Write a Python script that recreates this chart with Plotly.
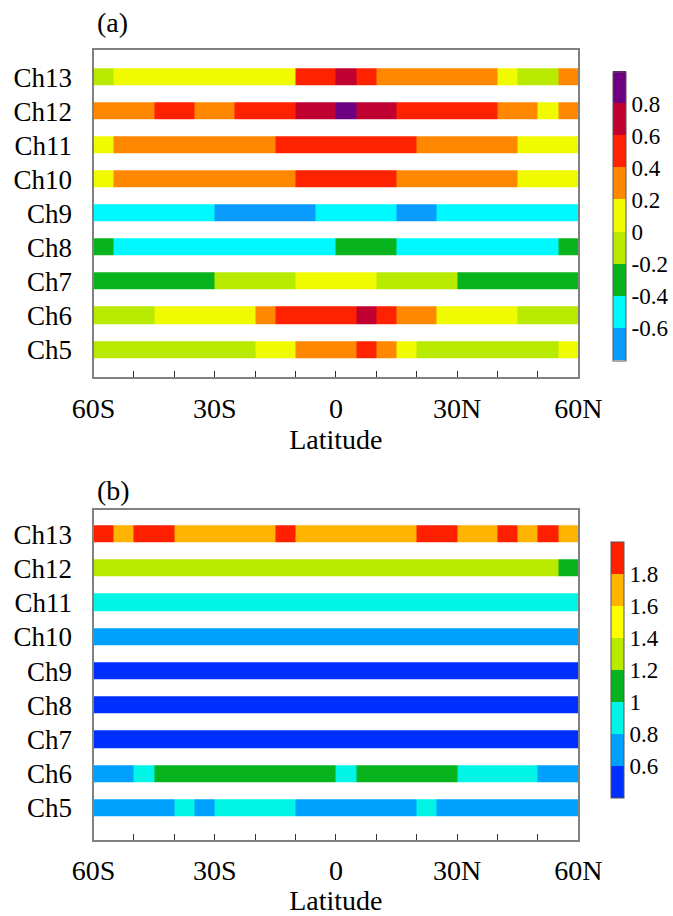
import plotly.graph_objects as go

# ---------------- data ----------------
lat_centers = [-57.5 + 5 * i for i in range(24)]
channels = ["Ch5", "Ch6", "Ch7", "Ch8", "Ch9", "Ch10", "Ch11", "Ch12", "Ch13"]
x_tickvals = [-60, -30, 0, 30, 60]
x_ticktext = ["60S", "30S", "0", "30N", "60N"]

# panel (a): correlation-like values, 5-degree latitude bins 60S..60N
a_ch13 = [-0.1, 0.1, 0.1, 0.1, 0.1, 0.1, 0.1, 0.1, 0.1, 0.1, 0.5, 0.5, 0.7, 0.5, 0.3, 0.3, 0.3, 0.3, 0.3, 0.3, 0.1, -0.1, -0.1, 0.3]
a_ch12 = [0.3, 0.3, 0.3, 0.5, 0.5, 0.3, 0.3, 0.5, 0.5, 0.5, 0.7, 0.7, 0.9, 0.7, 0.7, 0.5, 0.5, 0.5, 0.5, 0.5, 0.3, 0.3, 0.1, 0.3]
a_ch11 = [0.1, 0.3, 0.3, 0.3, 0.3, 0.3, 0.3, 0.3, 0.3, 0.5, 0.5, 0.5, 0.5, 0.5, 0.5, 0.5, 0.3, 0.3, 0.3, 0.3, 0.3, 0.1, 0.1, 0.1]
a_ch10 = [0.1, 0.3, 0.3, 0.3, 0.3, 0.3, 0.3, 0.3, 0.3, 0.3, 0.5, 0.5, 0.5, 0.5, 0.5, 0.3, 0.3, 0.3, 0.3, 0.3, 0.3, 0.1, 0.1, 0.1]
a_ch9 = [-0.5, -0.5, -0.5, -0.5, -0.5, -0.5, -0.7, -0.7, -0.7, -0.7, -0.7, -0.5, -0.5, -0.5, -0.5, -0.7, -0.7, -0.5, -0.5, -0.5, -0.5, -0.5, -0.5, -0.5]
a_ch8 = [-0.3, -0.5, -0.5, -0.5, -0.5, -0.5, -0.5, -0.5, -0.5, -0.5, -0.5, -0.5, -0.3, -0.3, -0.3, -0.5, -0.5, -0.5, -0.5, -0.5, -0.5, -0.5, -0.5, -0.3]
a_ch7 = [-0.3, -0.3, -0.3, -0.3, -0.3, -0.3, -0.1, -0.1, -0.1, -0.1, 0.1, 0.1, 0.1, 0.1, -0.1, -0.1, -0.1, -0.1, -0.3, -0.3, -0.3, -0.3, -0.3, -0.3]
a_ch6 = [-0.1, -0.1, -0.1, 0.1, 0.1, 0.1, 0.1, 0.1, 0.3, 0.5, 0.5, 0.5, 0.5, 0.7, 0.5, 0.3, 0.3, 0.1, 0.1, 0.1, 0.1, -0.1, -0.1, -0.1]
a_ch5 = [-0.1, -0.1, -0.1, -0.1, -0.1, -0.1, -0.1, -0.1, 0.1, 0.1, 0.3, 0.3, 0.3, 0.5, 0.3, 0.1, -0.1, -0.1, -0.1, -0.1, -0.1, -0.1, -0.1, 0.1]

# panel (b): ratio-like values
b_ch13 = [1.9, 1.7, 1.9, 1.9, 1.7, 1.7, 1.7, 1.7, 1.7, 1.9, 1.7, 1.7, 1.7, 1.7, 1.7, 1.7, 1.9, 1.9, 1.7, 1.7, 1.9, 1.7, 1.9, 1.7]
b_ch12 = [1.3, 1.3, 1.3, 1.3, 1.3, 1.3, 1.3, 1.3, 1.3, 1.3, 1.3, 1.3, 1.3, 1.3, 1.3, 1.3, 1.3, 1.3, 1.3, 1.3, 1.3, 1.3, 1.3, 1.1]
b_ch11 = [0.9, 0.9, 0.9, 0.9, 0.9, 0.9, 0.9, 0.9, 0.9, 0.9, 0.9, 0.9, 0.9, 0.9, 0.9, 0.9, 0.9, 0.9, 0.9, 0.9, 0.9, 0.9, 0.9, 0.9]
b_ch10 = [0.7, 0.7, 0.7, 0.7, 0.7, 0.7, 0.7, 0.7, 0.7, 0.7, 0.7, 0.7, 0.7, 0.7, 0.7, 0.7, 0.7, 0.7, 0.7, 0.7, 0.7, 0.7, 0.7, 0.7]
b_ch9 = [0.5, 0.5, 0.5, 0.5, 0.5, 0.5, 0.5, 0.5, 0.5, 0.5, 0.5, 0.5, 0.5, 0.5, 0.5, 0.5, 0.5, 0.5, 0.5, 0.5, 0.5, 0.5, 0.5, 0.5]
b_ch8 = [0.5, 0.5, 0.5, 0.5, 0.5, 0.5, 0.5, 0.5, 0.5, 0.5, 0.5, 0.5, 0.5, 0.5, 0.5, 0.5, 0.5, 0.5, 0.5, 0.5, 0.5, 0.5, 0.5, 0.5]
b_ch7 = [0.5, 0.5, 0.5, 0.5, 0.5, 0.5, 0.5, 0.5, 0.5, 0.5, 0.5, 0.5, 0.5, 0.5, 0.5, 0.5, 0.5, 0.5, 0.5, 0.5, 0.5, 0.5, 0.5, 0.5]
b_ch6 = [0.7, 0.7, 0.9, 1.1, 1.1, 1.1, 1.1, 1.1, 1.1, 1.1, 1.1, 1.1, 0.9, 1.1, 1.1, 1.1, 1.1, 1.1, 0.9, 0.9, 0.9, 0.9, 0.7, 0.7]
b_ch5 = [0.7, 0.7, 0.7, 0.7, 0.9, 0.7, 0.9, 0.9, 0.9, 0.9, 0.7, 0.7, 0.7, 0.7, 0.7, 0.7, 0.9, 0.7, 0.7, 0.7, 0.7, 0.7, 0.7, 0.7]

a_levels = [-0.8, -0.6, -0.4, -0.2, 0.0, 0.2, 0.4, 0.6, 0.8, 1.0]
a_colors = ["#0a9bff", "#00f8ff", "#08b41e", "#b8ea00", "#f0fa00", "#ff8800", "#ff2200", "#c00030", "#6c0080"]
a_ticks = [-0.6, -0.4, -0.2, 0, 0.2, 0.4, 0.6, 0.8]
a_ticktext = ["-0.6", "-0.4", "-0.2", "0", "0.2", "0.4", "0.6", "0.8"]

b_levels = [0.4, 0.6, 0.8, 1.0, 1.2, 1.4, 1.6, 1.8, 2.0]
b_colors = ["#0030ff", "#00a0ff", "#00f5e6", "#08b41e", "#b8ea00", "#ffff00", "#ffb400", "#ff2000"]
b_ticks = [0.6, 0.8, 1.0, 1.2, 1.4, 1.6, 1.8]
b_ticktext = ["0.6", "0.8", "1", "1.2", "1.4", "1.6", "1.8"]

# ---------------- figure ----------------
W, H = 673, 916
FONT = "Liberation Serif"


def discrete_scale(colors):
    n = len(colors)
    cs = []
    for i, c in enumerate(colors):
        cs.append([i / n, c])
        cs.append([(i + 1) / n, c])
    return cs


def py(px):
    return 1 - px / H


def pxx(px):
    return px / W


za = [a_ch5, a_ch6, a_ch7, a_ch8, a_ch9, a_ch10, a_ch11, a_ch12, a_ch13]
zb = [b_ch5, b_ch6, b_ch7, b_ch8, b_ch9, b_ch10, b_ch11, b_ch12, b_ch13]

fig = go.Figure()

cb_common = dict(
    thickness=13, thicknessmode="pixels", lenmode="fraction",
    outlinewidth=1, outlinecolor="#555555", xanchor="left", yanchor="top",
    ticks="", tickfont=dict(family=FONT, size=23, color="black"), ypad=0, xpad=0,
)

fig.add_trace(go.Heatmap(
    x=lat_centers, y=channels, z=za, xaxis="x", yaxis="y",
    zmin=a_levels[0], zmax=a_levels[-1], colorscale=discrete_scale(a_colors),
    ygap=17, xgap=0, hoverinfo="skip",
    colorbar=dict(x=pxx(612.5), y=py(71.5), len=(360 - 71.5) / H,
                  tickvals=a_ticks, ticktext=a_ticktext, **cb_common),
))
fig.add_trace(go.Heatmap(
    x=lat_centers, y=channels, z=zb, xaxis="x2", yaxis="y2",
    zmin=b_levels[0], zmax=b_levels[-1], colorscale=discrete_scale(b_colors),
    ygap=17, xgap=0, hoverinfo="skip",
    colorbar=dict(x=pxx(610.5), y=py(541.5), len=(797 - 541.5) / H,
                  tickvals=b_ticks, ticktext=b_ticktext, **cb_common),
))

xdom = [pxx(93.5), pxx(578.3)]


def xaxis_def(anchor, standoff_lbl, standoff_title):
    return dict(
        anchor=anchor, domain=xdom, range=[-60, 60], tickvals=x_tickvals, ticktext=x_ticktext,
        showgrid=False, zeroline=False, showline=True, linecolor="#808080", linewidth=2,
        mirror=True, ticks="inside", ticklen=6, tickcolor="#333333", automargin=False,
        minor=dict(dtick=10, tick0=0, ticks="inside", ticklen=6, tickcolor="#333333"),
        tickfont=dict(family=FONT, size=28, color="black"), ticklabelstandoff=standoff_lbl,
        title=dict(text="Latitude", font=dict(family=FONT, size=28, color="black"),
                   standoff=standoff_title),
    )


ya = dict(
    showgrid=False, zeroline=False, showline=True, linecolor="#808080", linewidth=2,
    mirror=True, ticks="", tickfont=dict(family=FONT, size=27, color="black"),
    ticklabelstandoff=14, categoryorder="array", categoryarray=channels, automargin=False,
)

fig.update_layout(
    width=W, height=H, margin=dict(l=0, r=0, t=0, b=0, autoexpand=False),
    paper_bgcolor="white", plot_bgcolor="white",
    xaxis=xaxis_def("y", 5, 6),
    yaxis=dict(anchor="x", domain=[py(377), py(50)], range=[-0.8, 8.8], **ya),
    xaxis2=xaxis_def("y2", 4, 18),
    yaxis2=dict(anchor="x2", domain=[py(840), py(510)], range=[-0.935, 8.71], **ya),
    annotations=[
        dict(text="(a)", x=pxx(95), y=py(22), xref="paper", yref="paper",
             xanchor="left", yanchor="middle", showarrow=False,
             font=dict(family=FONT, size=28, color="black")),
        dict(text="(b)", x=pxx(95), y=py(490), xref="paper", yref="paper",
             xanchor="left", yanchor="middle", showarrow=False,
             font=dict(family=FONT, size=28, color="black")),
    ],
)

fig.write_html("out.html")
